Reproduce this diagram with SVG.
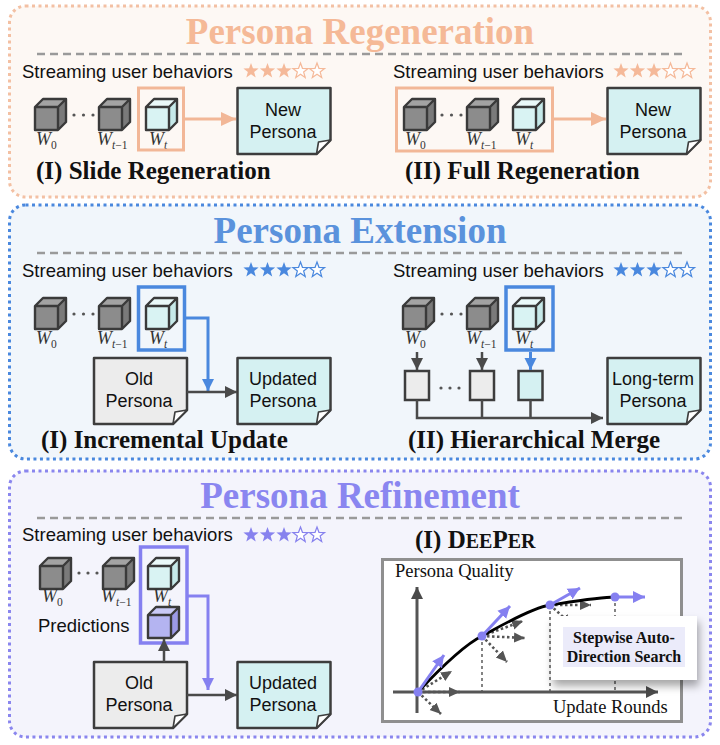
<svg xmlns="http://www.w3.org/2000/svg" xmlns:xlink="http://www.w3.org/1999/xlink" width="720" height="745" viewBox="0 0 720 745">
<style>
.sans{font-family:"Liberation Sans",Arial,sans-serif;fill:#111}
.serif{font-family:"Liberation Serif","Times New Roman",serif;fill:#111}
.title{font-family:"Liberation Serif","Times New Roman",serif;font-weight:bold;font-size:37px;text-anchor:middle}
.sub-h{font-family:"Liberation Serif","Times New Roman",serif;font-weight:bold;font-size:25px;fill:#111}
.stream{font-family:"Liberation Sans",Arial,sans-serif;font-size:18.5px;fill:#111}
.doct{font-family:"Liberation Sans",Arial,sans-serif;font-size:18px;fill:#111;text-anchor:middle}
.w{font-family:"Liberation Serif","Times New Roman",serif;font-style:italic;font-weight:normal;font-size:18px;fill:#333}
.ws{font-size:11.5px;font-style:normal}
.wi{font-size:11.5px;font-style:italic}
.dash{stroke:#9a9a9a;stroke-width:2.5;stroke-dasharray:8 5;fill:none}
.dot{fill:#555}
</style>
<defs>
<path id="star" d="M0,-8 L1.94,-2.67 L7.61,-2.47 L3.14,1.02 L4.70,6.47 L0,3.3 L-4.70,6.47 L-3.14,1.02 L-7.61,-2.47 L-1.94,-2.67 Z"/>
<g id="cubeOutline"><path d="M0,8 L8,0 H31 V23 L23,31 H0 Z M0,8 H23 V31 M23,8 L31,0" fill="none" stroke="#3a3a3a" stroke-width="2.4" stroke-linejoin="round"/></g>
<g id="cg"><path d="M0,8 L8,0 H31 L23,8 Z" fill="#a3a3a3"/><path d="M23,8 L31,0 V23 L23,31 Z" fill="#7a7a7a"/><rect x="0" y="8" width="23" height="23" fill="#8c8c8c"/><use href="#cubeOutline"/></g>
<g id="cc"><path d="M0,8 L8,0 H31 L23,8 Z" fill="#eaf9f9"/><path d="M23,8 L31,0 V23 L23,31 Z" fill="#c6e9e9"/><rect x="0" y="8" width="23" height="23" fill="#d9f3f3"/><use href="#cubeOutline"/></g>
<g id="cp"><path d="M0,8 L8,0 H31 L23,8 Z" fill="#cacaf6"/><path d="M23,8 L31,0 V23 L23,31 Z" fill="#9c9ae6"/><rect x="0" y="8" width="23" height="23" fill="#b4b4f1"/><use href="#cubeOutline"/></g>
<path id="docshape" d="M0,0 H93 V52 L79,66 H0 Z"/>
<g id="fold"><path d="M79,66 L81,54 L93,52 Z" fill="#fff" stroke="#3d3d3d" stroke-width="1.6" stroke-linejoin="round"/></g>
<marker id="mO" markerUnits="userSpaceOnUse" markerWidth="16" markerHeight="16" refX="15" refY="8" orient="auto"><path d="M0,1 L15,8 L0,15 Z" fill="#f2b797"/></marker>
<marker id="mB" markerUnits="userSpaceOnUse" markerWidth="14" markerHeight="14" refX="12" refY="7" orient="auto"><path d="M0,1 L12,7 L0,13 Z" fill="#4a88de"/></marker>
<marker id="mP" markerUnits="userSpaceOnUse" markerWidth="14" markerHeight="14" refX="12" refY="7" orient="auto"><path d="M0,1 L12,7 L0,13 Z" fill="#8580f0"/></marker>
<marker id="mG" markerUnits="userSpaceOnUse" markerWidth="14" markerHeight="14" refX="12" refY="7" orient="auto"><path d="M0,1 L12,7 L0,13 Z" fill="#4a4a4a"/></marker>
<marker id="mGs" markerUnits="userSpaceOnUse" markerWidth="12" markerHeight="12" refX="11" refY="6" orient="auto"><path d="M0,1 L11,6 L0,11 Z" fill="#555"/></marker>
<marker id="mPs" markerUnits="userSpaceOnUse" markerWidth="14" markerHeight="14" refX="12" refY="7" orient="auto"><path d="M0,1 L12,7 L0,13 Z" fill="#8580f0"/></marker>
<filter id="sh" x="-20%" y="-20%" width="150%" height="170%"><feDropShadow dx="2" dy="6" stdDeviation="4" flood-color="#000" flood-opacity="0.35"/></filter>
</defs>

<g id="section-regeneration">
<rect x="9.5" y="6" width="701" height="191" rx="16" fill="#fdf8f4" stroke="#f3c0a3" stroke-width="3" stroke-dasharray="3 3.5"/>
<text class="title" x="360" y="44" fill="#f5b997">Persona Regeneration</text>
<line class="dash" x1="37" y1="54" x2="683" y2="54"/>
</g>
<g id="section-extension">
<rect x="9.5" y="205" width="701" height="254" rx="16" fill="#f1f6fb" stroke="#4a88de" stroke-width="3" stroke-dasharray="3 3.5"/>
<text class="title" x="360" y="243" fill="#5a92dc">Persona Extension</text>
<line class="dash" x1="37" y1="253" x2="683" y2="253"/>
</g>
<g id="section-refinement">
<rect x="9.5" y="471" width="701" height="266" rx="16" fill="#f4f4fc" stroke="#8a86ee" stroke-width="3" stroke-dasharray="3 3.5"/>
<text class="title" x="360" y="508" fill="#8a86f0">Persona Refinement</text>
<line class="dash" x1="37" y1="518" x2="683" y2="518"/>
</g>

<g id="s1-left">
<text class="stream" x="22" y="78">Streaming user behaviors</text>
<g fill="#f5b999"><use href="#star" x="251" y="71"/><use href="#star" x="267.5" y="71"/><use href="#star" x="284" y="71"/></g>
<g fill="#fff" stroke="#f5b999" stroke-width="1.2"><use href="#star" x="300.5" y="71"/><use href="#star" x="317" y="71"/></g>
<use href="#cg" x="35" y="99"/><use href="#cg" x="99" y="99"/><use href="#cc" x="146" y="99"/>
<circle class="dot" cx="74" cy="115" r="1.6"/><circle class="dot" cx="83.5" cy="115" r="1.6"/><circle class="dot" cx="93" cy="115" r="1.6"/>
<text class="w" x="36" y="145">W<tspan class="ws" dy="4">0</tspan></text>
<text class="w" x="97" y="145">W<tspan class="wi" dy="4">t</tspan><tspan class="ws">−1</tspan></text>
<text class="w" x="149" y="145">W<tspan class="wi" dy="4">t</tspan></text>
<rect x="138.5" y="88" width="45" height="62" fill="none" stroke="#f2b797" stroke-width="3"/>
</g>
<g id="s1-left-doc">
<use href="#docshape" x="237.5" y="88" fill="#d5f1f2" stroke="#3d3d3d" stroke-width="2.5" stroke-linejoin="round"/>
<use href="#fold" x="237.5" y="88"/>
<text class="doct" x="283" y="116">New</text>
<text class="doct" x="283" y="138">Persona</text>
</g>
<text class="sub-h" x="36" y="179">(I) Slide Regeneration</text>

<g id="s1-right">
<text class="stream" x="393" y="78">Streaming user behaviors</text>
<g fill="#f5b999"><use href="#star" x="621" y="71"/><use href="#star" x="637.5" y="71"/><use href="#star" x="654" y="71"/></g>
<g fill="#fff" stroke="#f5b999" stroke-width="1.2"><use href="#star" x="670.5" y="71"/><use href="#star" x="687" y="71"/></g>
<rect x="396.5" y="88" width="156" height="63" fill="none" stroke="#f2b797" stroke-width="3"/>
<use href="#cg" x="404" y="99"/><use href="#cg" x="467" y="99"/><use href="#cc" x="513" y="99"/>
<circle class="dot" cx="442" cy="115" r="1.6"/><circle class="dot" cx="451.5" cy="115" r="1.6"/><circle class="dot" cx="461" cy="115" r="1.6"/>
<text class="w" x="405" y="145">W<tspan class="ws" dy="4">0</tspan></text>
<text class="w" x="466" y="145">W<tspan class="wi" dy="4">t</tspan><tspan class="ws">−1</tspan></text>
<text class="w" x="515" y="145">W<tspan class="wi" dy="4">t</tspan></text>
</g>
<g id="s1-right-doc">
<use href="#docshape" x="607.5" y="88" fill="#d5f1f2" stroke="#3d3d3d" stroke-width="2.5" stroke-linejoin="round"/>
<use href="#fold" x="607.5" y="88"/>
<text class="doct" x="653" y="116">New</text>
<text class="doct" x="653" y="138">Persona</text>
</g>
<text class="sub-h" x="405" y="179">(II) Full Regeneration</text>

<g id="s2-left">
<text class="stream" x="22" y="277">Streaming user behaviors</text>
<g fill="#4a88de"><use href="#star" x="251" y="270"/><use href="#star" x="267.5" y="270"/><use href="#star" x="284" y="270"/></g>
<g fill="#fff" stroke="#4a88de" stroke-width="1.2"><use href="#star" x="300.5" y="270"/><use href="#star" x="317" y="270"/></g>
<use href="#cg" x="35" y="298"/><use href="#cg" x="99" y="298"/><use href="#cc" x="146" y="298"/>
<circle class="dot" cx="74" cy="314" r="1.6"/><circle class="dot" cx="83.5" cy="314" r="1.6"/><circle class="dot" cx="93" cy="314" r="1.6"/>
<text class="w" x="36" y="344">W<tspan class="ws" dy="4">0</tspan></text>
<text class="w" x="97" y="344">W<tspan class="wi" dy="4">t</tspan><tspan class="ws">−1</tspan></text>
<text class="w" x="149" y="344">W<tspan class="wi" dy="4">t</tspan></text>
<rect x="138.5" y="287" width="46" height="63" fill="none" stroke="#4a88de" stroke-width="3.5"/>
</g>
<g id="s2-old-doc">
<use href="#docshape" x="94" y="358" fill="#ececec" stroke="#3d3d3d" stroke-width="2.5" stroke-linejoin="round"/>
<use href="#fold" x="94" y="358"/>
<text class="doct" x="139" y="385">Old</text>
<text class="doct" x="139" y="407">Persona</text>
</g>
<g id="s2-upd-doc">
<use href="#docshape" x="237.5" y="358" fill="#d5f1f2" stroke="#3d3d3d" stroke-width="2.5" stroke-linejoin="round"/>
<use href="#fold" x="237.5" y="358"/>
<text class="doct" x="283" y="385">Updated</text>
<text class="doct" x="283" y="407">Persona</text>
</g>
<text class="sub-h" x="41" y="448">(I) Incremental Update</text>

<g id="s2-right">
<text class="stream" x="393" y="277">Streaming user behaviors</text>
<g fill="#4a88de"><use href="#star" x="621" y="270"/><use href="#star" x="637.5" y="270"/><use href="#star" x="654" y="270"/></g>
<g fill="#fff" stroke="#4a88de" stroke-width="1.2"><use href="#star" x="670.5" y="270"/><use href="#star" x="687" y="270"/></g>
<use href="#cg" x="403" y="298"/><use href="#cg" x="467" y="298"/><use href="#cc" x="513" y="298"/>
<circle class="dot" cx="442" cy="314" r="1.6"/><circle class="dot" cx="451.5" cy="314" r="1.6"/><circle class="dot" cx="461" cy="314" r="1.6"/>
<text class="w" x="405" y="344">W<tspan class="ws" dy="4">0</tspan></text>
<text class="w" x="466" y="344">W<tspan class="wi" dy="4">t</tspan><tspan class="ws">−1</tspan></text>
<text class="w" x="515" y="344">W<tspan class="wi" dy="4">t</tspan></text>
<rect x="506" y="287" width="47" height="63" fill="none" stroke="#4a88de" stroke-width="3.5"/>
<rect x="405" y="371" width="24" height="29" fill="#ececec" stroke="#3d3d3d" stroke-width="2.5"/>
<rect x="470" y="371" width="24" height="29" fill="#ececec" stroke="#3d3d3d" stroke-width="2.5"/>
<rect x="518.5" y="371" width="24" height="29" fill="#d5f1f2" stroke="#3d3d3d" stroke-width="2.5"/>
<circle class="dot" cx="441" cy="388" r="1.6"/><circle class="dot" cx="450" cy="388" r="1.6"/><circle class="dot" cx="459" cy="388" r="1.6"/>
</g>
<g id="s2-lt-doc">
<use href="#docshape" x="607.5" y="358" fill="#d5f1f2" stroke="#3d3d3d" stroke-width="2.5" stroke-linejoin="round"/>
<use href="#fold" x="607.5" y="358"/>
<text class="doct" x="653" y="385">Long-term</text>
<text class="doct" x="653" y="407">Persona</text>
</g>
<text class="sub-h" x="408" y="448">(II) Hierarchical Merge</text>

<g id="s3-left">
<text class="stream" x="22" y="541">Streaming user behaviors</text>
<g fill="#8782ee"><use href="#star" x="251" y="535"/><use href="#star" x="267.5" y="535"/><use href="#star" x="284" y="535"/></g>
<g fill="#fff" stroke="#8782ee" stroke-width="1.2"><use href="#star" x="300.5" y="535"/><use href="#star" x="317" y="535"/></g>
<use href="#cg" x="40" y="558"/><use href="#cg" x="103" y="558"/><use href="#cc" x="148" y="558"/><use href="#cp" x="148" y="607"/>
<circle class="dot" cx="79" cy="573" r="1.6"/><circle class="dot" cx="88" cy="573" r="1.6"/><circle class="dot" cx="97" cy="573" r="1.6"/>
<text class="w" x="42" y="602">W<tspan class="ws" dy="4">0</tspan></text>
<text class="w" x="101" y="602">W<tspan class="wi" dy="4">t</tspan><tspan class="ws">−1</tspan></text>
<text class="w" x="153" y="602">W<tspan class="wi" dy="4">t</tspan></text>
<text class="stream" x="38" y="632">Predictions</text>
<rect x="140.5" y="547" width="46.5" height="96" fill="none" stroke="#8580f0" stroke-width="3.5"/>
</g>
<g id="s3-old-doc">
<use href="#docshape" x="94" y="662" fill="#ececec" stroke="#3d3d3d" stroke-width="2.5" stroke-linejoin="round"/>
<use href="#fold" x="94" y="662"/>
<text class="doct" x="139" y="689">Old</text>
<text class="doct" x="139" y="711">Persona</text>
</g>
<g id="s3-upd-doc">
<use href="#docshape" x="237.5" y="662" fill="#d5f1f2" stroke="#3d3d3d" stroke-width="2.5" stroke-linejoin="round"/>
<use href="#fold" x="237.5" y="662"/>
<text class="doct" x="283" y="689">Updated</text>
<text class="doct" x="283" y="711">Persona</text>
</g>

<text class="sub-h" x="415" y="548" font-size="26">(I) D<tspan font-size="20">EE</tspan>P<tspan font-size="20">ER</tspan></text>
<g id="chart">
<rect x="382.5" y="559.5" width="299" height="162" fill="#fff" stroke="#8f8f8f" stroke-width="3"/>
<text class="serif" x="395" y="577" font-size="18.5">Persona Quality</text>
<g stroke="#777" stroke-width="1.8" stroke-dasharray="3 3" fill="none">
<line x1="482" y1="636" x2="482" y2="692"/>
<line x1="550" y1="605" x2="550" y2="692"/>
<line x1="615" y1="597" x2="615" y2="692"/>
</g>
<line x1="417" y1="713" x2="417" y2="587" stroke="#555" stroke-width="3" marker-end="url(#mG)"/>
<line x1="393" y1="692" x2="658" y2="692" stroke="#555" stroke-width="3" marker-end="url(#mG)"/>
<g stroke="#555" stroke-width="2.6" stroke-dasharray="2.5 2.5" fill="none">
<line x1="418" y1="692" x2="452" y2="671" marker-end="url(#mGs)"/>
<line x1="418" y1="692" x2="460" y2="692" marker-end="url(#mGs)"/>
<line x1="418" y1="692" x2="441" y2="714" marker-end="url(#mGs)"/>
<line x1="482" y1="636" x2="523" y2="621" marker-end="url(#mGs)"/>
<line x1="482" y1="636" x2="525" y2="638" marker-end="url(#mGs)"/>
<line x1="482" y1="636" x2="507" y2="662" marker-end="url(#mGs)"/>
<line x1="550" y1="605" x2="591" y2="605" marker-end="url(#mGs)"/>
<line x1="550" y1="605" x2="572" y2="625" marker-end="url(#mGs)"/>
</g>
<path d="M418,692 C448,660 470,642 482,636 S530,608 550,605 S600,597 615,597" fill="none" stroke="#000" stroke-width="2.8"/>
<g stroke="#8580f0" stroke-width="3" fill="none">
<line x1="418" y1="692" x2="444" y2="655" marker-end="url(#mPs)"/>
<line x1="482" y1="636" x2="510" y2="606" marker-end="url(#mPs)"/>
<line x1="550" y1="605" x2="580" y2="588" marker-end="url(#mPs)"/>
<line x1="615" y1="597" x2="645" y2="597" marker-end="url(#mPs)"/>
</g>
<g fill="#8580f0"><circle cx="418" cy="692" r="4.5"/><circle cx="482" cy="636" r="4.5"/><circle cx="550" cy="605" r="4.5"/><circle cx="615" cy="597" r="4.5"/></g>
<text class="serif" x="553" y="713" font-size="18.5">Update Rounds</text>
</g>
<g id="callout">
<rect x="551" y="616" width="146" height="64" fill="#fff" filter="url(#sh)"/>
<rect x="563" y="627" width="122" height="40" fill="#ebebfa"/>
<text class="serif" x="624" y="643" font-size="16" font-weight="bold" text-anchor="middle">Stepwise Auto-</text>
<text class="serif" x="624" y="662" font-size="16" font-weight="bold" text-anchor="middle">Direction Search</text>
</g>

<g id="connectors">
<line x1="184" y1="119" x2="236" y2="119" stroke="#f2b797" stroke-width="3" marker-end="url(#mO)"/>
<line x1="553" y1="119" x2="606" y2="119" stroke="#f2b797" stroke-width="3" marker-end="url(#mO)"/>
<path d="M186,318 H208 V391" fill="none" stroke="#4a88de" stroke-width="3" marker-end="url(#mB)"/>
<line x1="187" y1="392" x2="237" y2="392" stroke="#4a4a4a" stroke-width="2.5" marker-end="url(#mG)"/>
<line x1="417" y1="352" x2="417" y2="370" stroke="#4a4a4a" stroke-width="2.5" marker-end="url(#mG)"/>
<line x1="482" y1="352" x2="482" y2="370" stroke="#4a4a4a" stroke-width="2.5" marker-end="url(#mG)"/>
<line x1="530.5" y1="352" x2="530.5" y2="370" stroke="#4a88de" stroke-width="3" marker-end="url(#mB)"/>
<path d="M417,400 V418 H603" fill="none" stroke="#4a4a4a" stroke-width="2.5" marker-end="url(#mG)"/>
<line x1="482" y1="400" x2="482" y2="418" stroke="#4a4a4a" stroke-width="2.5"/>
<line x1="530.5" y1="400" x2="530.5" y2="418" stroke="#4a4a4a" stroke-width="2.5"/>
<path d="M188,596 H208 V690" fill="none" stroke="#8580f0" stroke-width="3" marker-end="url(#mP)"/>
<line x1="187" y1="695" x2="237" y2="695" stroke="#4a4a4a" stroke-width="2.5" marker-end="url(#mG)"/>
<line x1="164" y1="662" x2="164" y2="639" stroke="#4a4a4a" stroke-width="2.5" marker-end="url(#mG)"/>
</g>
</svg>
